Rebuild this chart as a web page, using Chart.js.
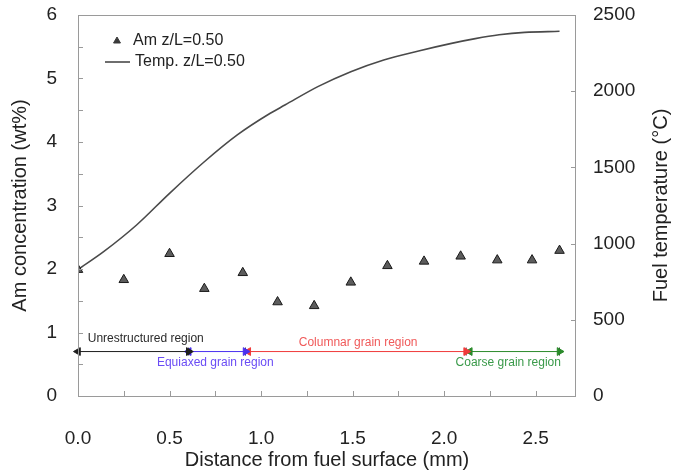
<!DOCTYPE html>
<html><head><meta charset="utf-8">
<script src="https://cdn.jsdelivr.net/npm/chart.js@4/dist/chart.umd.min.js"></script>
<style>html,body{margin:0;padding:0;background:#fff;} #wrap{width:676px;height:472px;}</style>
</head><body><div id="wrap"><canvas id="c" width="676" height="472"></canvas></div>
<script>
// ---- data ----
const amDistance = [0, 0.25, 0.5, 0.69, 0.9, 1.09, 1.29, 1.49, 1.69, 1.89, 2.09, 2.29, 2.48, 2.63];
const amConc     = [1.99, 1.83, 2.24, 1.69, 1.94, 1.48, 1.42, 1.79, 2.05, 2.12, 2.20, 2.14, 2.14, 2.29];
const tempDistance = [0, 0.14, 0.32, 0.5, 0.69, 0.87, 1.05, 1.13, 1.31, 1.49, 1.67, 1.86, 2.04, 2.17, 2.3, 2.44, 2.63];
const tempC        = [830, 947, 1122, 1330, 1537, 1713, 1855, 1909, 2030, 2128, 2205, 2264, 2314, 2345, 2370, 2386, 2393];

const regionNames  = ['Unrestructured region', 'Equiaxed grain region', 'Columnar grain region', 'Coarse grain region'];
const regionStart  = [0, 0.605, 0.93, 2.14];
const regionEnd    = [0.605, 0.915, 2.12, 2.63];
const regionLevel  = 0.70;
const regionLabelX = [0.37, 0.75, 1.53, 2.35];
const regionLabelY = [0.90, 0.52, 0.84, 0.52];
const regionColors = ['#1e1e1e', '#4a30f0', '#f03a3a', '#2a8a2a'];
const regionTextColors = ['#2a2a2a', '#6a4cf5', '#f05a5a', '#3a9a4a'];

const xTicks      = [0, 0.5, 1.0, 1.5, 2.0, 2.5];
const xMinorTicks = [0.25, 0.75, 1.25, 1.75, 2.25];
const yTicks      = [0, 1, 2, 3, 4, 5, 6];
const yMinorTicks = [0.5, 1.5, 2.5, 3.5, 4.5, 5.5];
const y2Ticks     = [0, 500, 1000, 1500, 2000, 2500];

const legendLabels = ['Am z/L=0.50', 'Temp. z/L=0.50'];
const xTitle  = 'Distance from fuel surface (mm)';
const yTitle  = 'Am concentration (wt%)';
const y2Title = 'Fuel temperature (°C)';

// ---- chart ----
const FONT = "'Liberation Sans', Arial, sans-serif";
const tickFont = {family: FONT, size: 19};
const titleFont = {family: FONT, size: 20};
const textColor = '#222';

const datasets = [];
regionNames.forEach((n, i) => {
  datasets.push({
    type: 'line', label: n, yAxisID: 'y',
    data: [{x: regionStart[i], y: regionLevel}, {x: regionEnd[i], y: regionLevel}],
    borderColor: regionColors[i], backgroundColor: regionColors[i], borderWidth: 1,
    pointStyle: 'triangle', pointRotation: c => (c.dataIndex === 0 ? 270 : 90),
    pointRadius: 4.5, pointBorderWidth: 1, pointBackgroundColor: regionColors[i], pointBorderColor: regionColors[i],
    fill: false, order: 5, clip: false
  });
});
const boundaries = [0].concat(regionEnd);
datasets.push({
  type: 'scatter', label: 'bounds', yAxisID: 'y',
  data: boundaries.map(b => ({x: b, y: regionLevel})),
  pointStyle: 'line', pointRotation: 90, pointRadius: 4, borderColor: '#333', borderWidth: 1, order: 5
});
datasets.push({
  type: 'line', label: legendLabels[1], yAxisID: 'y2',
  data: tempDistance.map((x, i) => ({x, y: tempC[i]})),
  borderColor: '#4a4a4a', borderWidth: 1.6, pointRadius: 0,
  cubicInterpolationMode: 'monotone', fill: false, order: 2
});
datasets.push({
  type: 'scatter', label: legendLabels[0], yAxisID: 'y',
  data: amDistance.map((x, i) => ({x, y: amConc[i]})),
  pointStyle: 'triangle', pointRadius: 5.5, backgroundColor: '#5c5c5c', borderColor: '#1a1a1a', borderWidth: 1, order: 1
});

const framePlugin = {
  id: 'frame',
  afterDatasetsDraw(chart) {
    const {ctx, chartArea: a, scales} = chart;
    ctx.save();
    ctx.strokeStyle = '#9a9a9a';
    ctx.lineWidth = 1;
    ctx.beginPath();
    ctx.rect(Math.round(a.left) + 0.5, Math.round(a.top) + 0.5, Math.round(a.right - a.left) - 1, Math.round(a.bottom - a.top));
    ctx.stroke();
    const L = 5;
    ctx.beginPath();
    xTicks.concat(xMinorTicks).forEach(v => {
      const px = Math.round(scales.x.getPixelForValue(v)) + 0.5;
      ctx.moveTo(px, a.bottom); ctx.lineTo(px, a.bottom - L);
    });
    yTicks.concat(yMinorTicks).forEach(v => {
      const py = Math.round(scales.y.getPixelForValue(v)) + 0.5;
      ctx.moveTo(a.left, py); ctx.lineTo(a.left + L, py);
    });
    y2Ticks.forEach(v => {
      const py = Math.round(scales.y2.getPixelForValue(v)) + 0.5;
      ctx.moveTo(a.right, py); ctx.lineTo(a.right - L, py);
    });
    ctx.stroke();

    // region labels
    ctx.font = "12px " + FONT;
    ctx.textAlign = 'center';
    ctx.textBaseline = 'middle';
    regionNames.forEach((n, i) => {
      ctx.fillStyle = regionTextColors[i];
      ctx.fillText(n, scales.x.getPixelForValue(regionLabelX[i]), scales.y.getPixelForValue(regionLabelY[i]));
    });

    // legend
    ctx.font = "16px " + FONT;
    ctx.textAlign = 'left';
    const lx = a.left, ly = a.top;
    ctx.fillStyle = '#3a3a3a';
    ctx.strokeStyle = '#3a3a3a';
    Chart.helpers.drawPoint(ctx, {pointStyle: 'triangle', radius: 4, borderWidth: 0.5, rotation: 0}, lx + 39, ly + 26);
    ctx.fillStyle = textColor;
    ctx.fillText(legendLabels[0], lx + 55, ly + 26);
    ctx.strokeStyle = '#4a4a4a';
    ctx.lineWidth = 1.6;
    ctx.beginPath(); ctx.moveTo(lx + 27, ly + 47); ctx.lineTo(lx + 52, ly + 47); ctx.stroke();
    ctx.fillText(legendLabels[1], lx + 57, ly + 47);

    // right axis title (reads bottom to top)
    ctx.save();
    ctx.translate(661, (a.top + a.bottom) / 2);
    ctx.rotate(-Math.PI / 2);
    ctx.font = "20px " + FONT;
    ctx.textAlign = 'center';
    ctx.textBaseline = 'middle';
    ctx.fillStyle = textColor;
    ctx.fillText(y2Title, 0, 0);
    ctx.restore();
    ctx.restore();
  }
};

const noPadV = s => { s.paddingTop = 0; s.paddingBottom = 0; };

new Chart(document.getElementById('c'), {
  type: 'scatter',
  data: {datasets},
  plugins: [framePlugin],
  options: {
    animation: false, responsive: false, devicePixelRatio: 1,
    layout: {padding: {top: 15, left: 0, right: 0, bottom: 0}},
    plugins: {legend: {display: false}, tooltip: {enabled: false}},
    scales: {
      x: {
        type: 'linear', position: 'bottom', min: 0, max: 2.72,
        afterBuildTicks: s => { s.ticks = xTicks.map(v => ({value: v})); },
        ticks: {callback: v => Number(v).toFixed(1), padding: 31, font: tickFont, color: textColor, maxRotation: 0, autoSkip: false},
        grid: {display: false, drawTicks: false}, border: {display: false},
        title: {display: true, text: xTitle, font: titleFont, color: textColor, padding: 0},
        afterFit: s => { s.height = 76; s.paddingLeft = 0; s.paddingRight = 0; }
      },
      y: {
        type: 'linear', position: 'left', min: 0, max: 6,
        afterBuildTicks: s => { s.ticks = yTicks.map(v => ({value: v})); },
        ticks: {padding: 21, font: tickFont, color: textColor, callback: v => String(v)},
        grid: {display: false, drawTicks: false}, border: {display: false},
        title: {display: true, text: yTitle, font: titleFont, color: textColor, padding: {top: 8, bottom: 0}},
        afterFit: s => { s.width = 78; noPadV(s); }
      },
      y2: {
        type: 'linear', position: 'right', min: 0, max: 2500,
        afterBuildTicks: s => { s.ticks = y2Ticks.map(v => ({value: v})); },
        ticks: {padding: 17, font: tickFont, color: textColor, callback: v => String(v)},
        grid: {display: false, drawTicks: false}, border: {display: false},
        title: {display: false},
        afterFit: s => { s.width = 100; noPadV(s); }
      }
    }
  }
});
</script></body></html>
